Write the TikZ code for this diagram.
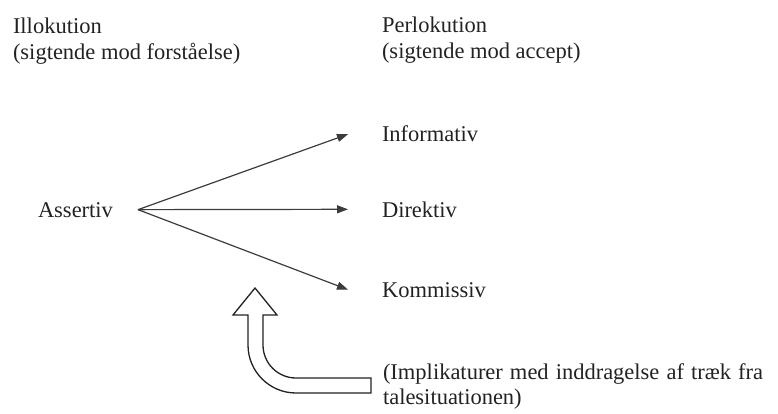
\documentclass[tikz,border=0pt]{standalone}
\usepackage{fontspec}
\setmainfont{Liberation Serif}
\usetikzlibrary{arrows.meta}
\definecolor{ink}{HTML}{222222}
\definecolor{lineink}{HTML}{3C3C3C}
\begin{document}
\begin{tikzpicture}[x=1pt,y=-1pt,
  lbl/.style={inner sep=0pt,outer sep=0pt,anchor=base west,text=ink,font=\fontsize{22.5}{26}\selectfont,align=left},
  arr/.style={draw=lineink,line width=1.2pt,-{Triangle[length=11pt,width=8pt]}},
  hollow/.style={draw=ink,line width=1.3pt,fill=white,line join=miter}]
\useasboundingbox (0,0) rectangle (778,414);
\node[lbl,anchor=north west] (ill) at (13,17.5) {Illokution\\(sigtende mod forståelse)};
\node[lbl,anchor=north west] (per) at (382,16.5) {Perlokution\\(sigtende mod accept)};
\node[lbl] (ass) at (38,217) {Assertiv};
\node[lbl] (inf) at (382,142) {Informativ};
\node[lbl] (dir) at (382,217) {Direktiv};
\node[lbl] (kom) at (382,297) {Kommissiv};
\node[lbl,anchor=north west,font=\fontsize{22.5}{25}\selectfont] (imp) at (383,363.5)
  {\makebox[380pt][s]{(Implikaturer med inddragelse af træk fra}\\talesituationen)};
\coordinate (src) at ([xshift=25pt]ass.east);
\draw[arr] (src) -- ([xshift=-34pt]inf.west);
\draw[arr] (src) -- ([xshift=-34pt]dir.west);
\draw[arr] (src) -- ([xshift=-34pt]kom.west);
% hollow bent arrow
\draw[hollow] (255,288) -- (277,315) -- (263,315) -- (263,345)
  arc[start angle=180,end angle=90,radius=33] -- (371,378) -- (371,393) -- (296,393)
  arc[start angle=90,end angle=180,radius=48] -- (248,315) -- (233,315) -- cycle;
\end{tikzpicture}
\end{document}
